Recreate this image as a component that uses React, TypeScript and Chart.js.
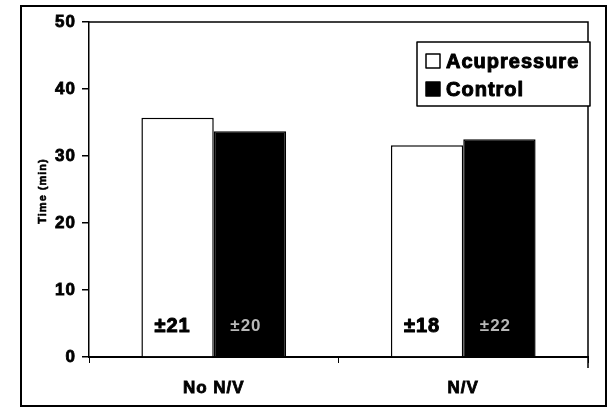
import React, { useEffect, useRef } from "react";
import { Chart, registerables } from "chart.js";

Chart.register(...registerables);

const categories = ["No N/V", "N/V"];
const acupressure = [35.7, 31.6];
const control = [33.7, 32.5];
const acuSD = ["±21", "±18"];
const ctrlSD = ["±20", "±22"];
const yTicks = [0, 10, 20, 30, 40, 50];
const yTitle = "Time (min)";

const FONT = "'Liberation Sans', Arial, sans-serif";

const spacing = {
  id: "spacing",
  beforeUpdate(chart: any) {
    chart.ctx.letterSpacing = "1px";
  },
  beforeDraw(chart: any) {
    chart.ctx.letterSpacing = "1px";
  },
};

function heavyText(ctx: any, text: string, x: number, y: number, color: string, sw: number) {
  ctx.fillStyle = color;
  ctx.strokeStyle = color;
  ctx.lineWidth = sw;
  ctx.lineJoin = "round";
  ctx.strokeText(text, x, y);
  ctx.fillText(text, x, y);
}

const decor = {
  id: "decor",
  afterDraw(chart: any) {
    const { ctx, chartArea } = chart;
    const ys = chart.scales.y;
    ctx.save();
    ctx.letterSpacing = "0px";
    // outer frame
    ctx.strokeStyle = "#000";
    ctx.lineWidth = 2;
    ctx.strokeRect(21, 6, 585, 400);
    // plot box top and right
    ctx.lineWidth = 1.5;
    ctx.beginPath();
    ctx.moveTo(chartArea.left, chartArea.top);
    ctx.lineTo(chartArea.right, chartArea.top);
    ctx.lineTo(chartArea.right, chartArea.bottom + 11);
    ctx.stroke();
    // y title
    ctx.save();
    ctx.translate(43, 191);
    ctx.rotate(-Math.PI / 2);
    ctx.letterSpacing = "1px";
    ctx.font = `bold 11px ${FONT}`;
    ctx.textAlign = "center";
    ctx.textBaseline = "middle";
    heavyText(ctx, yTitle, 0, 0, "#000", 0.6);
    ctx.restore();
    // SD labels inside bars
    const m0 = chart.getDatasetMeta(0);
    const m1 = chart.getDatasetMeta(1);
    const ty = ys.getPixelForValue(4.6);
    ctx.letterSpacing = "1px";
    ctx.textAlign = "center";
    ctx.textBaseline = "middle";
    m0.data.forEach((el: any, i: number) => {
      ctx.font = `bold 20px ${FONT}`;
      heavyText(ctx, acuSD[i], el.x - 5, ty, "#000", 1);
    });
    m1.data.forEach((el: any, i: number) => {
      ctx.font = `bold 17px ${FONT}`;
      ctx.fillStyle = "#b8b8b8";
      ctx.fillText(ctrlSD[i], el.x - 4, ty);
    });
    // legend
    const lx = 417, ly = 42, lw = 173, lh = 64;
    ctx.fillStyle = "#fff";
    ctx.fillRect(lx, ly, lw, lh);
    ctx.lineWidth = 1.5;
    ctx.strokeStyle = "#000";
    ctx.strokeRect(lx, ly, lw, lh);
    const items = chart.data.datasets;
    items.forEach((ds: any, i: number) => {
      const y = ly + 19 + i * 28;
      ctx.fillStyle = ds.backgroundColor;
      ctx.fillRect(lx + 9, y - 7, 14, 14);
      ctx.strokeStyle = "#000";
      ctx.lineWidth = 1.5;
      ctx.strokeRect(lx + 9, y - 7, 14, 14);
      ctx.font = `bold 20px ${FONT}`;
      ctx.letterSpacing = "1px";
      ctx.textAlign = "left";
      heavyText(ctx, ds.label, lx + 29, y + 1, "#000", 1);
    });
    ctx.restore();
  },
};

export default function App() {
  const ref = useRef<HTMLCanvasElement>(null);
  useEffect(() => {
    document.body.style.margin = "0";
    const chart = new Chart(ref.current!, {
      type: "bar",
      data: {
        labels: categories,
        datasets: [
          {
            label: "Acupressure",
            data: acupressure,
            backgroundColor: "#ffffff",
            borderColor: "#000",
            borderWidth: 1.5,
            borderSkipped: "bottom",
          },
          {
            label: "Control",
            data: control,
            backgroundColor: "#000000",
            borderColor: "#000",
            borderWidth: 1.5,
            borderSkipped: "bottom",
          },
        ],
      },
      options: {
        responsive: false,
        animation: false,
        devicePixelRatio: 1,
        layout: { padding: { left: 20, top: 22, right: 19, bottom: 0 } },
        plugins: { legend: { display: false }, tooltip: { enabled: false } },
        datasets: { bar: { categoryPercentage: 0.58, barPercentage: 1 } },
        scales: {
          x: {
            afterFit(s: any) {
              s.height = 53;
            },
            grid: {
              offset: true,
              drawOnChartArea: false,
              color: "#000",
              tickLength: 6,
              tickColor: "#000",
            },
            border: { color: "#000", width: 2 },
            ticks: {
              color: "#000",
              maxRotation: 0,
              textStrokeColor: "#000",
              textStrokeWidth: 0.8,
              font: { family: FONT, size: 17, weight: "bold" },
              padding: 15,
            },
          },
          y: {
            min: 0,
            max: 50,
            afterFit(s: any) {
              s.width = 69;
            },
            afterBuildTicks(s: any) {
              s.ticks = yTicks.map((v) => ({ value: v }));
            },
            grid: {
              drawOnChartArea: false,
              tickLength: 7,
              tickColor: "#000",
              lineWidth: 1.5,
            },
            border: { color: "#000", width: 1.5 },
            ticks: {
              color: "#000",
              textStrokeColor: "#000",
              textStrokeWidth: 0.8,
              font: { family: FONT, size: 17, weight: "bold" },
              padding: 6,
            },
          },
        },
      },
      plugins: [spacing, decor],
    });
    return () => chart.destroy();
  }, []);
  return (
    <div style={{ position: "absolute", left: 0, top: 0, width: 607, height: 410, background: "#fff" }}>
      <canvas ref={ref} width={607} height={410} />
    </div>
  );
}
